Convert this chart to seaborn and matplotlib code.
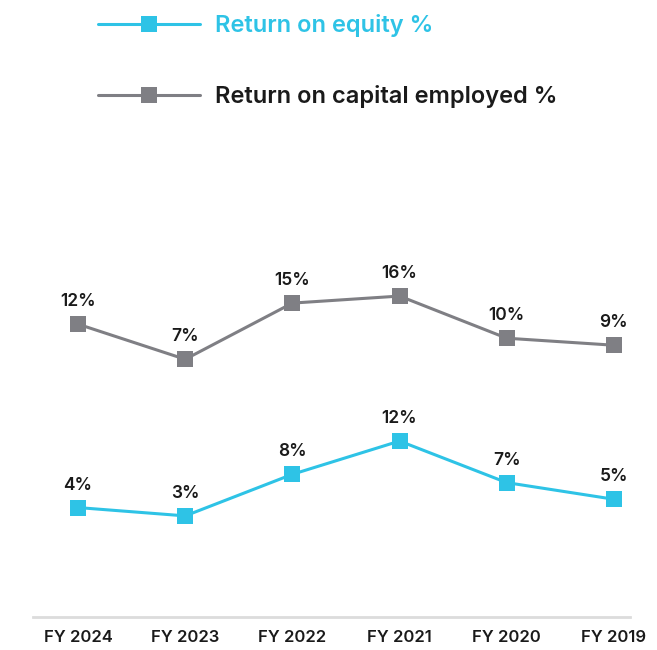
import matplotlib
matplotlib.use("Agg")
import matplotlib.pyplot as plt
import seaborn as sns
import pandas as pd

years = ["FY 2024", "FY 2023", "FY 2022", "FY 2021", "FY 2020", "FY 2019"]
roe = [4, 3, 8, 12, 7, 5]
roce = [12, 7, 15, 16, 10, 9]
series_names = ["Return on equity %", "Return on capital employed %"]

BLUE = "#2EC3E6"
GREY = "#7F7F84"
TXT = "#1a1a1a"

sns.set_theme(style="white")
plt.rcParams["font.family"] = ["Inter", "DejaVu Sans"]

df = pd.DataFrame({"year": years, "roe": roe, "roce": roce})

fig = plt.figure(figsize=(6.57, 6.5), dpi=100)
ax = fig.add_axes([33 / 657, 33 / 650, (630 - 33) / 657, (617 - 150) / 650])
ax2 = ax.twinx()

ms = 11.5
lw = 2.2
sns.lineplot(data=df, x="year", y="roce", ax=ax, color=GREY, marker="s",
             markersize=ms, markeredgewidth=0, linewidth=lw, sort=False)
sns.lineplot(data=df, x="year", y="roe", ax=ax2, color=BLUE, marker="s",
             markersize=ms, markeredgewidth=0, linewidth=lw, sort=False)

ax.set_xlim(-0.42, 5.15)
ax.set_ylim(-29.7, 36.8)
ax2.set_ylim(-9.16, 47.0)

for a, vals in ((ax, roce), (ax2, roe)):
    for i, v in enumerate(vals):
        a.annotate(f"{v}%", (i, v), xytext=(0, 10), textcoords="offset points",
                   ha="center", va="bottom", fontsize=12.5, fontweight="semibold",
                   color=TXT)
    for s in ("top", "right", "left"):
        a.spines[s].set_visible(False)
    a.set_ylabel("")
    a.set_xlabel("")
    a.set_yticks([])

ax2.spines["bottom"].set_visible(False)
ax.spines["bottom"].set_color("#dcdcdc")
ax.spines["bottom"].set_linewidth(2)
ax.tick_params(axis="x", length=0, pad=9, labelsize=12, labelcolor=TXT)
for lab in ax.get_xticklabels():
    lab.set_fontweight("semibold")

handles = [ax2.lines[0], ax.lines[0]]
leg = fig.legend(handles=handles, labels=series_names, loc="upper left",
                 bbox_to_anchor=(98 / 657, 1 - 14 / 650), frameon=False,
                 handlelength=4.3, handletextpad=0.65,
                 labelspacing=2.05, borderpad=0, borderaxespad=0,
                 prop={"family": ["Inter", "DejaVu Sans"], "weight": "semibold",
                       "size": 17})
leg.get_texts()[0].set_color(BLUE)
leg.get_texts()[1].set_color(TXT)

fig.savefig("out.png", dpi=100)
